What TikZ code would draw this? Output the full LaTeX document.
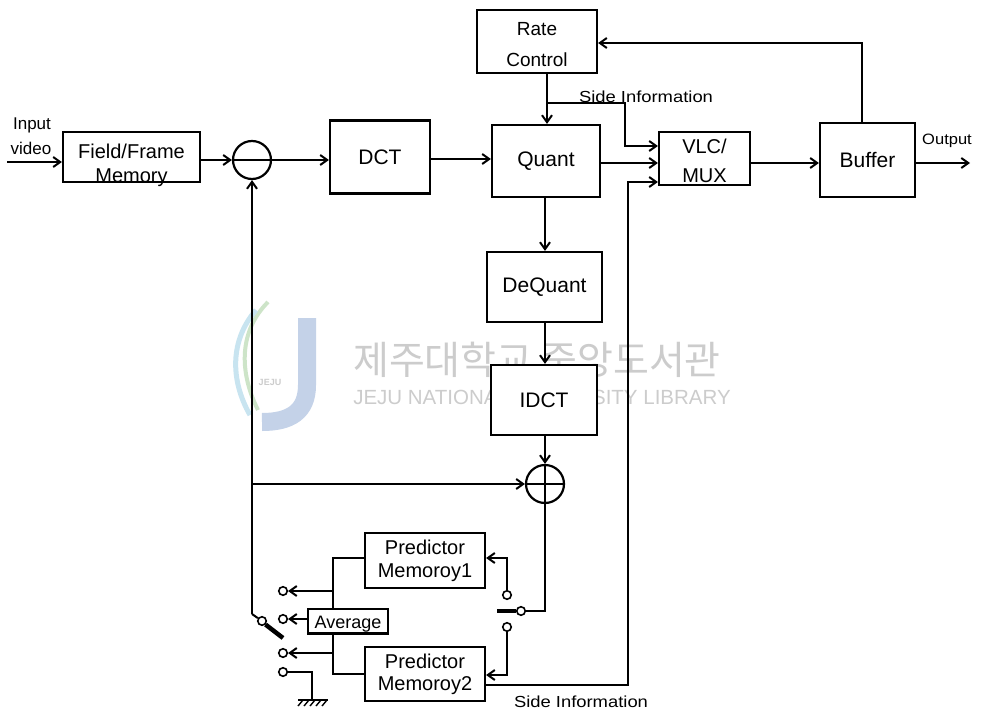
\documentclass[tikz,border=0pt]{standalone}
\usepackage{fontspec}
\setmainfont{Liberation Sans}
\newfontfamily\krfont{Noto Sans CJK KR}
\usetikzlibrary{arrows.meta}
\begin{document}
\begin{tikzpicture}[x=1pt,y=-1pt,
  blk/.style={draw, line width=2.2pt, fill=white, inner sep=0pt, align=center, font=\fontsize{21}{25}\selectfont},
  arr/.style={-{Straight Barb[length=7pt,width=10pt]}, line width=2pt},
  ln/.style={line width=2pt},
  cont/.style={circle, draw, line width=1.6pt, fill=white, minimum size=8.5pt, inner sep=0pt},
  lbl/.style={font=\fontsize{17}{19}\selectfont, inner sep=0pt},
  sml/.style={font=\fontsize{16}{18}\selectfont, inner sep=0pt},
  wm/.style={text=black!20, inner sep=0pt}]
\useasboundingbox[fill=white] (0,0) rectangle (983,712);

% watermark
\definecolor{jblue}{RGB}{196,210,232}
\definecolor{jgreen}{RGB}{205,228,200}
\definecolor{jcyan}{RGB}{200,228,240}
\draw[jblue, line width=18pt] (307,318) -- (307,385) .. controls (307,412) and (290,422) .. (262,422);
\draw[jgreen, line width=4pt] (268,302) .. controls (240,330) and (238,370) .. (258,410);
\draw[jcyan, line width=5pt] (256,310) .. controls (230,340) and (230,380) .. (250,415);
\node[wm, font=\fontsize{9}{10}\selectfont\bfseries] (wmlogo) at (270,382) {JEJU};
\node[wm, font=\krfont\fontsize{39}{42}\selectfont] (wmk) at (537,360) {제주대학교 중앙도서관};
\node[wm, font=\fontsize{20.5}{22}\selectfont] (wme) at (542,397) {JEJU NATIONAL UNIVERSITY LIBRARY};

% blocks
\node[blk, minimum width=137pt, minimum height=50pt] (fm) at (131.5,157) {};
\node[lbl, font=\fontsize{20}{22}\selectfont] (fmt1) at (131.5,151) {Field/Frame};
\node[lbl, font=\fontsize{20}{22}\selectfont] (fmt2) at (131.5,178) {Memory};
\node[blk, minimum width=100pt, minimum height=73pt] (dct) at (380,157) {DCT};
\node[blk, minimum width=108pt, minimum height=72pt] (quant) at (546,161) {Quant};
\node[blk, minimum width=120pt, minimum height=63pt] (rate) at (537,41.5) {};
\node[lbl, font=\fontsize{19}{21}\selectfont] (ratet1) at (537,29) {Rate};
\node[lbl, font=\fontsize{19}{21}\selectfont] (ratet2) at (537,60) {Control};
\node[blk, minimum width=91pt, minimum height=53pt] (vlc) at (704.5,158.5) {};
\node[lbl, font=\fontsize{20}{22}\selectfont] (vlct1) at (704.5,146) {VLC/};
\node[lbl, font=\fontsize{20}{22}\selectfont] (vlct2) at (704.5,176) {MUX};
\node[blk, minimum width=95pt, minimum height=74pt] (buf) at (867.5,160) {Buffer};
\node[blk, minimum width=115pt, minimum height=70pt] (deq) at (544.5,287) {DeQuant};
\node[blk, minimum width=106pt, minimum height=70pt] (idct) at (544,400) {IDCT};
\node[blk, minimum width=120pt, minimum height=55pt, font=\fontsize{20}{23}\selectfont] (pm1) at (425,560.5) {Predictor\\Memoroy1};
\node[blk, minimum width=120pt, minimum height=54pt, font=\fontsize{20}{22}\selectfont] (pm2) at (425,674) {Predictor\\Memoroy2};
\node[blk, minimum width=80pt, minimum height=24pt] (avg) at (348,621) {};
\node[lbl, font=\fontsize{18}{20}\selectfont] (avgt) at (348,624) {Average};
\draw[line width=2.2pt] (avg.south west) -- (avg.south east);

\node[circle, draw, line width=2.2pt, fill=white, minimum size=38pt, inner sep=0pt] (sub) at (252,160) {};
\draw[ln] (sub.west) -- (sub.east);
\node[circle, draw, line width=2.2pt, fill=white, minimum size=38pt, inner sep=0pt] (add) at (545,484) {};
\draw[ln] (add.west) -- (add.east);
\draw[ln] (add.north) -- (add.south);

% labels
\node[lbl] (tin1) at (32,125) {Input};
\node[lbl] (tin2) at (31,148) {video};
\node[sml, font=\fontsize{15}{17}\selectfont] (tout) at (947,141) {\scalebox{1.1}[1]{Output}};
\node[sml, anchor=base] (si1) at (646,102) {\scalebox{1.15}[1]{Side Information}};
\node[sml, anchor=base] (si2) at (581,707) {\scalebox{1.15}[1]{Side Information}};

% forward path
\coordinate (in) at (7,162);
\draw[arr] (in) -- (in -| fm.west);
\draw[arr] (fm.east |- sub.west) -- (sub.west);
\draw[arr] (sub.east) -- (sub.east -| dct.west);
\draw[arr] (dct.east |- 0,159) -- (quant.west |- 0,159);
\draw[arr] (quant.east |- 0,163) -- (vlc.west |- 0,163);
\draw[arr] (vlc.east |- 0,163) -- (buf.west |- 0,163);
\coordinate (out) at (970,163);
\draw[arr] (buf.east |- out) -- (out);

% rate control
\coordinate (fb) at (862,43);
\draw[arr] (fb |- buf.north) -- (fb) -- (fb -| rate.east);
\coordinate (rq) at (547,103);
\draw[arr] (rq |- rate.south) -- (rq |- quant.north);
\coordinate (si) at (625,146);
\draw[arr] (rq) -- (rq -| si) -- (si) -- (si -| vlc.west);

% inverse path
\coordinate (cx) at (545,0);
\draw[arr] (cx |- quant.south) -- (cx |- deq.north);
\draw[arr] (cx |- deq.south) -- (cx |- idct.north);
\draw[arr] (cx |- idct.south) -- (add.north);

% left feedback and switch
\coordinate (lf) at (252,614);
\draw[arr] (lf) -- (sub.south);
\draw[arr] (lf |- add.west) -- (add.west);
\node[cont] (piv) at (262,621) {};
\draw[ln] (lf) -- (piv);
\coordinate (armend) at (283,638);
\draw[line width=4.5pt] (piv.south east) -- (armend);

\node[cont] (c1) at (283,591) {};
\node[cont] (c2) at (283,619) {};
\node[cont] (c3) at (283,653) {};
\node[cont] (c4) at (283,672) {};
\coordinate (tx) at (333,0);
\draw[ln] (pm1.west |- 0,558) -- (tx |- 0,558) -- (tx |- avg.north);
\draw[arr] (tx |- c1) -- (c1.east);
\draw[arr] (avg.west |- c2) -- (c2.east);
\draw[ln] (tx |- avg.south) -- (tx |- pm2.west) -- (pm2.west);
\draw[arr] (tx |- c3) -- (c3.east);
\coordinate (gnd) at (312,700);
\draw[ln] (c4.east) -- (c4 -| gnd) -- (gnd);
\draw[ln] (298,700) -- (328,700);
\foreach \i in {0,...,4} \draw[line width=1.4pt] (298+6*\i,706) -- (303+6*\i,700);

% right switch
\node[cont] (r1) at (507,595) {};
\node[cont] (r2) at (507,627) {};
\node[cont] (rp) at (521,611) {};
\coordinate (rbar) at (497,611);
\draw[line width=4.5pt] (rbar) -- (rp.west);
\coordinate (rj) at (545,611);
\draw[ln] (rp.east) -- (rj) -- (add.south);
\draw[arr] (r1.north) -- (r1 |- 0,558) -- (pm1.east |- 0,558);
\draw[arr] (r2.south) -- (r2 |- 0,675) -- (pm2.east |- 0,675);

% bottom side information
\coordinate (sb) at (628,685);
\draw[arr] (pm2.east |- sb) -- (sb) -- (sb |- 0,182) -- (vlc.west |- 0,182);
\end{tikzpicture}
\end{document}
